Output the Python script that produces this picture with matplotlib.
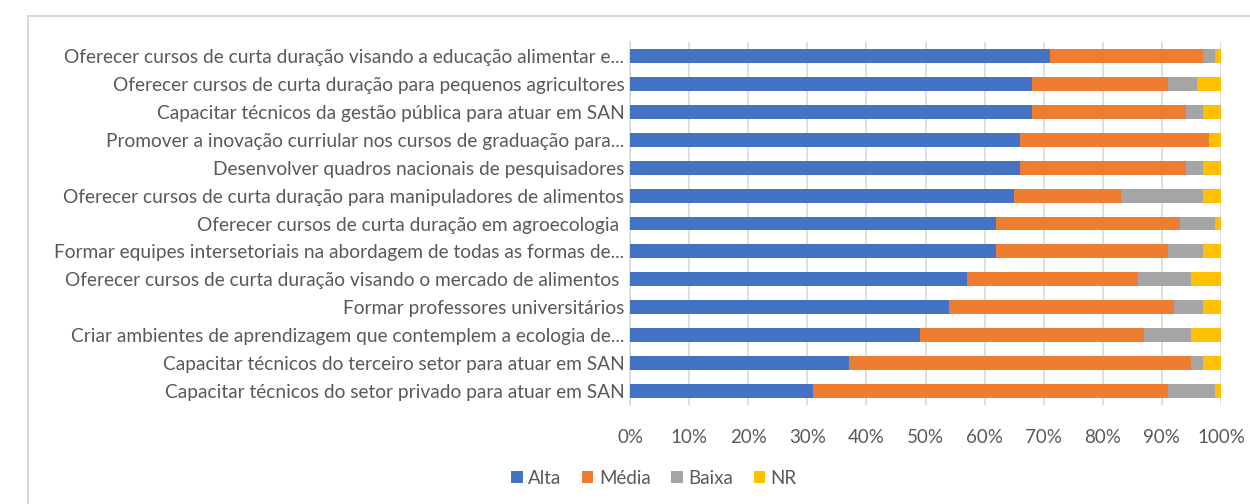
import matplotlib
matplotlib.use("Agg")
import matplotlib.pyplot as plt
import numpy as np
from matplotlib.patches import Rectangle
from matplotlib.ticker import FuncFormatter

categories = [
    "Oferecer cursos de curta duração visando a educação alimentar e...",
    "Oferecer cursos de curta duração para pequenos agricultores",
    "Capacitar técnicos da gestão pública para atuar em SAN",
    "Promover a inovação curriular nos cursos de graduação para...",
    "Desenvolver quadros nacionais de pesquisadores",
    "Oferecer cursos de curta duração para manipuladores de alimentos",
    "Oferecer cursos de curta duração em agroecologia ",
    "Formar equipes intersetoriais na abordagem de todas as formas de...",
    "Oferecer cursos de curta duração visando o mercado de alimentos ",
    "Formar professores universitários",
    "Criar ambientes de aprendizagem que contemplem a ecologia de...",
    "Capacitar técnicos do terceiro setor para atuar em SAN",
    "Capacitar técnicos do setor privado para atuar em SAN",
]
alta = [71, 68, 68, 66, 66, 65, 62, 62, 57, 54, 49, 37, 31]
media = [26, 23, 26, 32, 28, 18, 31, 29, 29, 38, 38, 58, 60]
baixa = [2, 5, 3, 0, 3, 14, 6, 6, 9, 5, 8, 2, 8]
nr = [1, 4, 3, 2, 3, 3, 1, 3, 5, 3, 5, 3, 1]
series_names = ["Alta", "Média", "Baixa", "NR"]
colors = ["#4472C4", "#ED7D31", "#A5A5A5", "#FFC000"]
xticks = [0, 10, 20, 30, 40, 50, 60, 70, 80, 90, 100]

plt.rcParams['font.family'] = ['Lato', 'DejaVu Sans']

W, H = 1250, 504
fig = plt.figure(figsize=(W / 100, H / 100), dpi=100)
# chart border
fig.patches.append(Rectangle((28 / W, -0.1), 1.2, 1 - 16 / H + 0.1,
                             transform=fig.transFigure, fill=False,
                             edgecolor="#D9D9D9", linewidth=1.5))

left, right = 630 / W, 1221 / W
top, bottom = 1 - 42 / H, 1 - 405 / H
ax = fig.add_axes([left, bottom, right - left, top - bottom])

y = np.arange(len(categories))
data = [alta, media, baixa, nr]
totals = np.array(alta) + np.array(media) + np.array(baixa) + np.array(nr)
cum = np.zeros(len(categories))
for name, vals, c in zip(series_names, data, colors):
    v = np.array(vals, dtype=float) / totals * 100
    ax.barh(y, v, left=cum, height=0.5, color=c, label=name, zorder=3)
    cum += v

ax.set_ylim(len(categories) - 0.5, -0.5)
ax.set_xlim(0, 100)
ax.set_yticks(y)
ax.set_yticklabels(categories, fontsize=13.8, color="#595959")
ax.set_xticks(xticks)
ax.xaxis.set_major_formatter(FuncFormatter(lambda v, p: f"{int(v)}%"))
ax.tick_params(axis="x", labelsize=13.5, labelcolor="#595959", length=0, pad=17)
ax.tick_params(axis="y", length=0, pad=4)
ax.grid(axis="x", color="#D9D9D9", linewidth=1.2, zorder=0)
for s in ["top", "right", "bottom"]:
    ax.spines[s].set_visible(False)
ax.spines["left"].set_color("#D9D9D9")
ax.spines["left"].set_linewidth(1.2)

fig.legend(loc="center", bbox_to_anchor=(654 / W, 1 - 478 / H), ncol=4,
           frameon=False, fontsize=13.5, handlelength=0.6, handleheight=0.6,
           handletextpad=0.3, columnspacing=1.1, labelcolor="#595959")

fig.savefig("out.png", dpi=100)
